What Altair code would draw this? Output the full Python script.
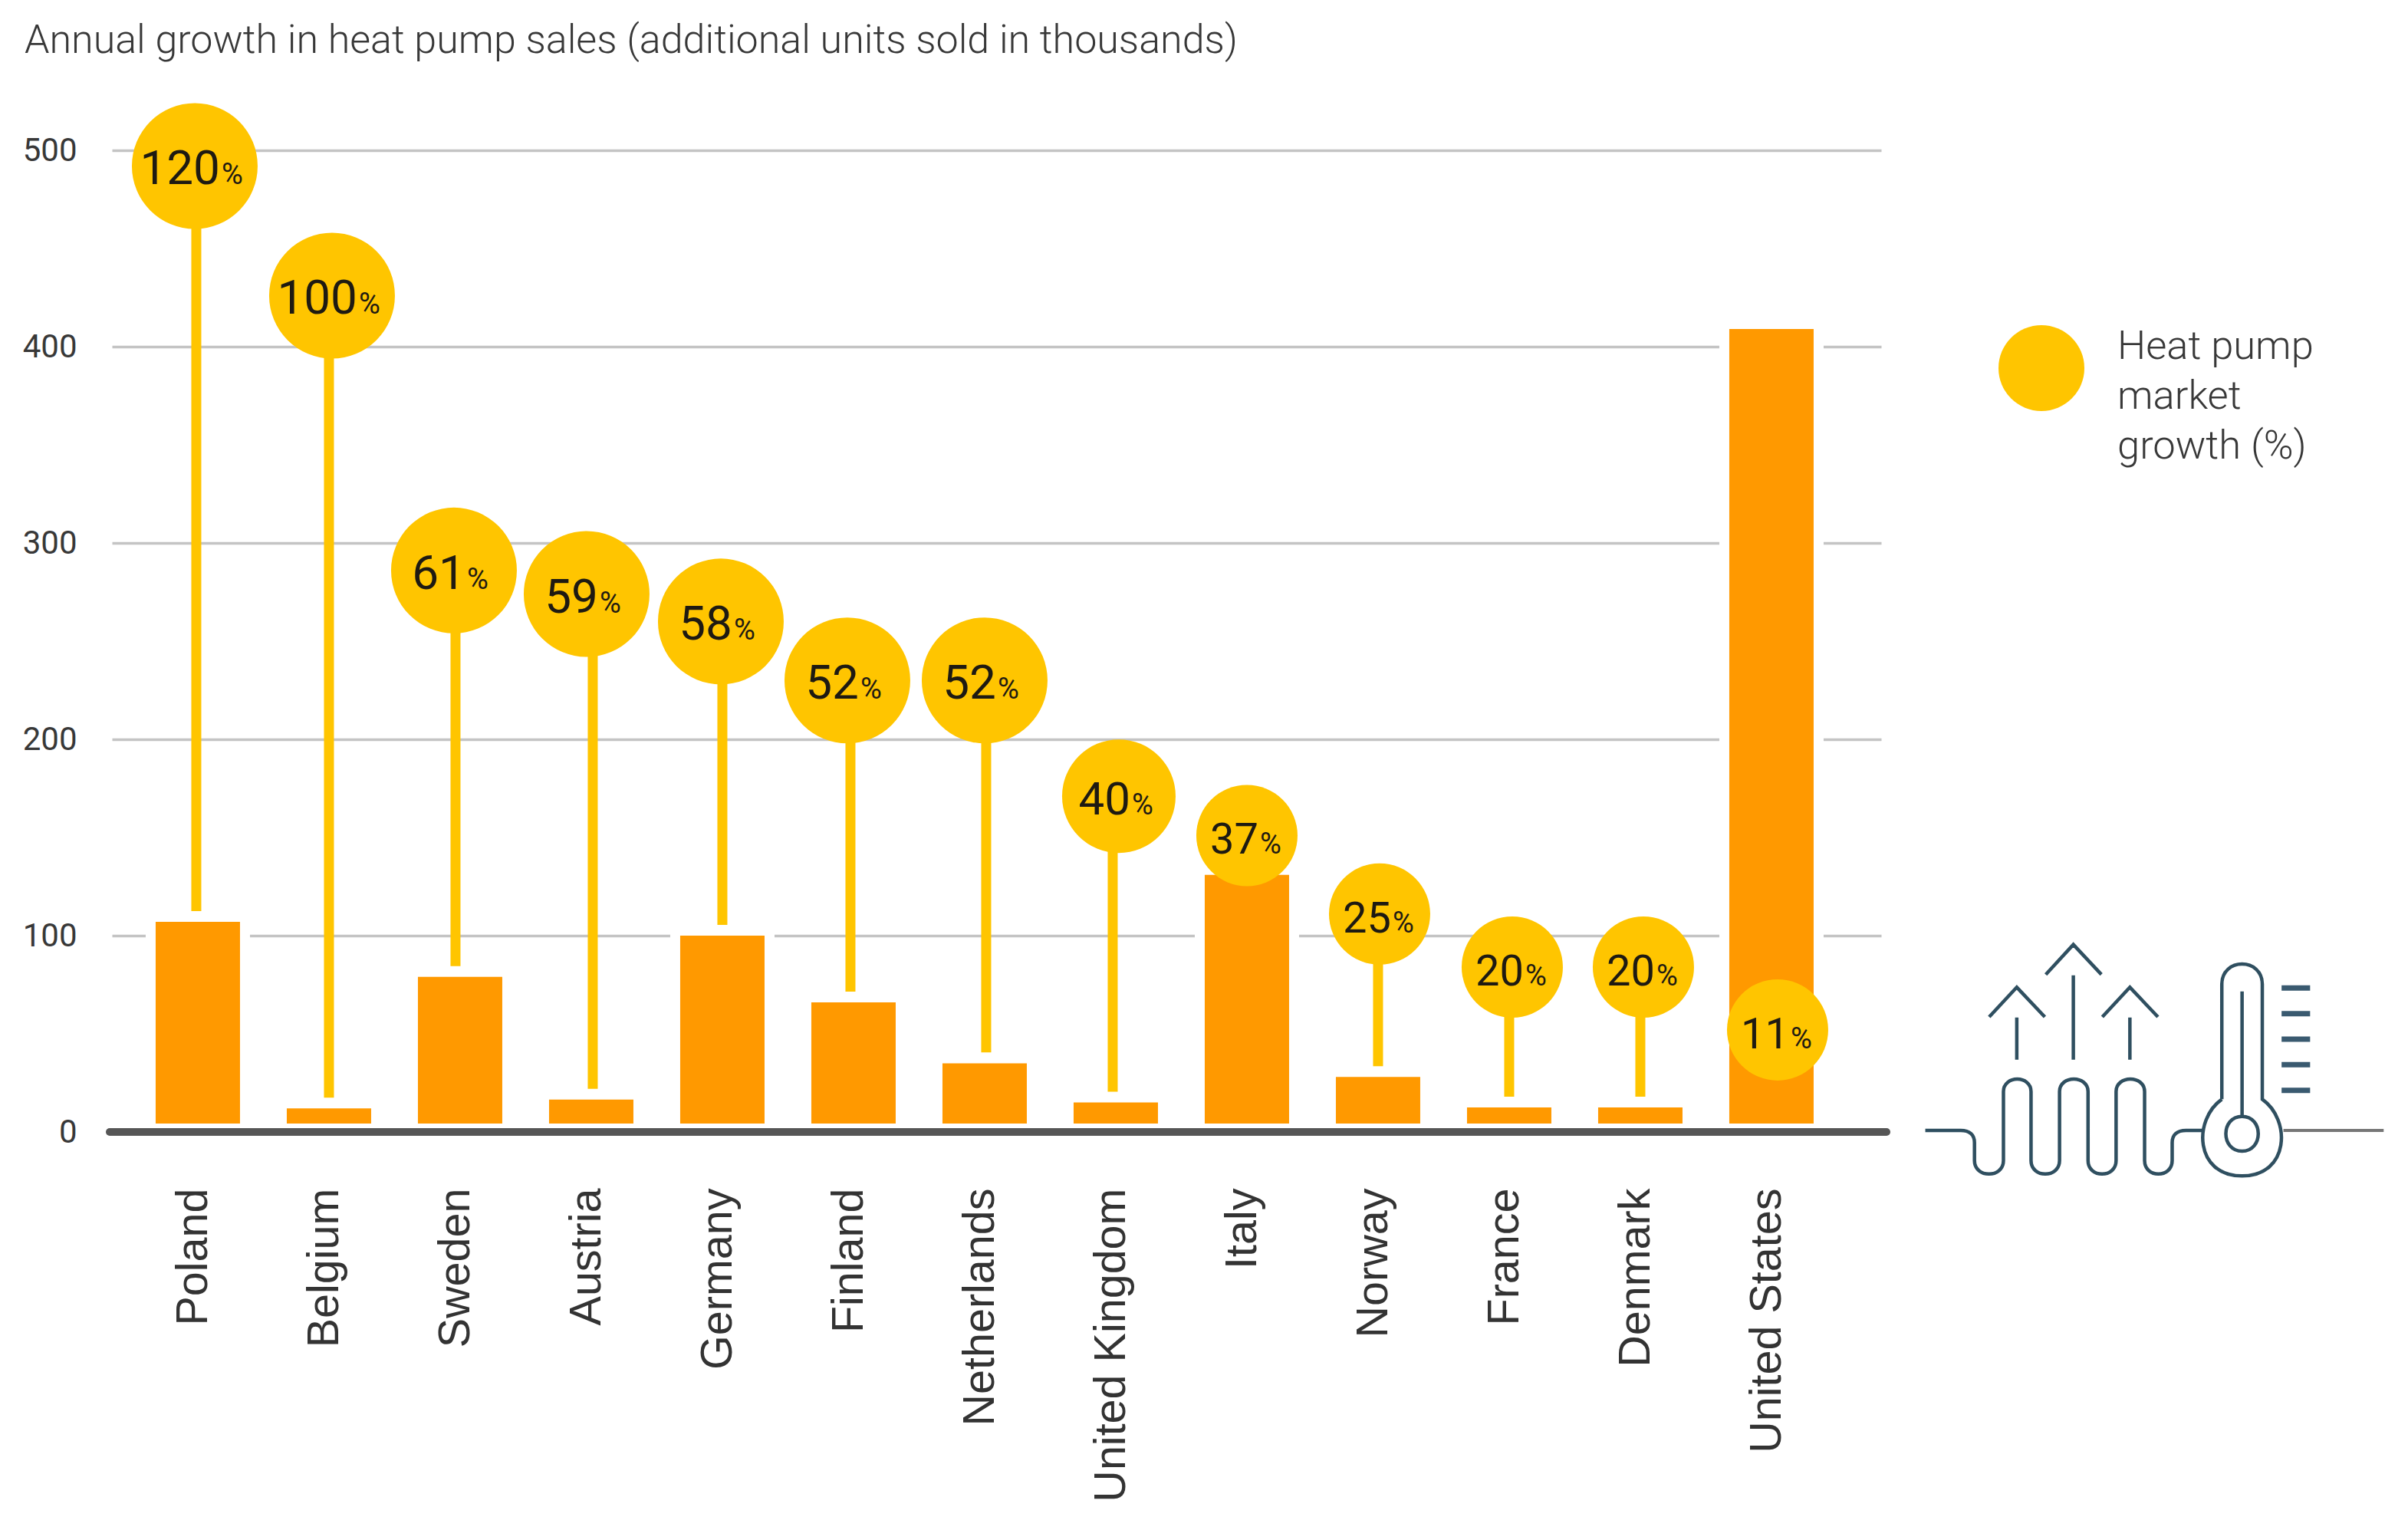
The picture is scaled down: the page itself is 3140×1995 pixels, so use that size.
import altair as alt
import pandas as pd

countries = ["Poland", "Belgium", "Sweden", "Austria", "Germany", "Finland", "Netherlands",
             "United Kingdom", "Italy", "Norway", "France", "Denmark", "United States"]
added_sales = [107, 12, 79, 16.5, 100, 66, 35, 15, 131, 28, 12.5, 12.5, 409]
growth_pct = [120, 100, 61, 59, 58, 52, 52, 40, 37, 25, 20, 20, 11]
bubble_height = [492, 426, 286, 274, 260, 230, 230, 171, 151, 111, 84, 84, 52]
bubble_shift = [-4, 4, -8, -6, -2, -8, 0, 4, 0, 2, 4, 4, 8]
stem_shift = [-2, 0, -6, 2, 0, -4, 2, -4, 0, 0, 0, 0, 0]
y_ticks = [0, 100, 200, 300, 400, 500]
title_text = "Annual growth in heat pump sales (additional units sold in thousands)"
legend_lines = ["Heat pump", "market", "growth (%)"]

BAR = "#FF9900"
BUB = "#FFC500"
INK = "#1E1A12"
GREY = "#383838"
LEFT, TOP, W, H = 146, 196, 2307, 1280
HALF_STEP = 85.5


def px(x):
    return x - LEFT


def py(y):
    return y - TOP


df = pd.DataFrame({"country": countries, "sales": added_sales, "growth": growth_pct,
                   "bubble": bubble_height, "shift": bubble_shift, "stem": stem_shift})
df["label"] = df["growth"].astype(str)

x_scale = alt.Scale(paddingInner=0, paddingOuter=0.2456, align=0.315)
x = alt.X("country:N", sort=countries, title=None, scale=x_scale,
          axis=alt.Axis(labelAngle=270, labelFont="Liberation Sans", labelFontSize=57.5,
                        labelColor="#333333", labelOffset=-5, labelPadding=73, tickSize=0,
                        ticks=False, domain=False, grid=False, labelAlign="right",
                        labelBaseline="middle", labelLimit=0))
x_plain = alt.X("country:N", sort=countries)
y_scale = alt.Scale(domain=[0, 500], nice=False)
y = alt.Y("sales:Q", scale=y_scale, title=None, stack=None,
          axis=alt.Axis(values=y_ticks, labelFont="Roboto", labelFontSize=42, labelColor=GREY,
                        labelPadding=46, ticks=False, domain=False, grid=True,
                        gridColor="#C4C4C4", gridWidth=3.5))
offset_scale = alt.Scale(domain=[-100, 100], range=[HALF_STEP - 100, HALF_STEP + 100])
off = alt.XOffset("shift:Q", scale=offset_scale)
stem_off = alt.XOffset("stem:Q", scale=offset_scale)
base = alt.Chart(df)
BAR_FOOT = 4.3

bars = base.mark_bar(width=110, color=BAR, stroke="white", strokeWidth=26).encode(
    x=x, y=y, y2=alt.datum(BAR_FOOT))
bars_top = base.mark_bar(width=110, color=BAR).encode(
    x=x_plain, y=alt.Y("sales:Q", stack=None), y2=alt.datum(BAR_FOOT))

stems = base.transform_filter("datum.bubble > datum.sales").transform_calculate(
    stem_bottom="datum.sales + 5.5").mark_rule(color=BUB, strokeWidth=13).encode(
    x=x_plain, xOffset=stem_off, y=alt.Y("bubble:Q"), y2="stem_bottom:Q")

bubbles = base.mark_point(filled=True, opacity=1, color=BUB, shape="circle").encode(
    x=x_plain, xOffset=off, y=alt.Y("bubble:Q"),
    size=alt.Size("growth:Q", legend=None,
                  scale=alt.Scale(type="threshold", domain=[40, 52],
                                  range=[132 ** 2, 148 ** 2, 164 ** 2])))


def value_labels(test, dx, pct_dx):
    d = base.transform_filter(test)
    common = dict(x=x_plain, xOffset=off, y=alt.Y("bubble:Q"))
    nums = d.mark_text(font="Roboto", align="right", baseline="alphabetic",
                       dx=dx, dy=24, color=INK).encode(
        text="label:N",
        size=alt.Size("growth:Q", legend=None,
                      scale=alt.Scale(type="threshold", domain=[40, 52], range=[56, 60, 62])),
        **common)
    pct = d.mark_text(font="Roboto", align="left", baseline="alphabetic",
                      dx=pct_dx, dy=24, fontSize=38, color=INK, text="%").encode(**common)
    return nums + pct


baseline = alt.Chart(df.head(1)).mark_rule(color="#565656", strokeWidth=10, strokeCap="round").encode(
    y=alt.datum(0, scale=y_scale), x=alt.value(px(143)), x2=alt.value(px(2460)))

title = alt.Chart(df.head(1)).mark_text(
    text=title_text, font="Roboto", fontSize=52, fontWeight=300, color=GREY, align="left",
    baseline="alphabetic").encode(x=alt.value(px(32)), y=alt.value(py(69)))

legend_dot = alt.Chart(df.head(1)).mark_point(filled=True, opacity=1, color=BUB, shape="circle",
                                              size=112 ** 2).encode(
    x=alt.value(px(2662)), y=alt.value(py(480)))
legend_baselines = [468, 533, 598]
legend_text = alt.layer(*[
    alt.Chart(df.head(1)).mark_text(text=t, font="Roboto", fontSize=52.5, fontWeight=300, color=GREY,
                                    align="left", baseline="alphabetic").encode(
        x=alt.value(px(2761)), y=alt.value(py(b)))
    for t, b in zip(legend_lines, legend_baselines)])

# Decorative heat pump icon, traced in zoom-crop units of the reference.
ICON_CX, ICON_CY, ICON_HALF = 2809, 1381, 300


def P(zx, zy):
    fx = 2200 + zx / 1.668
    fy = 1150 + zy / 3
    return f"{(fx - ICON_CX) / ICON_HALF:.4f},{(fy - ICON_CY) / ICON_HALF:.4f}"


def u_turn(x1, y1, x2, y2, cy):
    return f"L{P(x1, y1)} C{P(x1, cy)} {P(x2, cy)} {P(x2, y2)} "


coil = f"M{P(518, 972)} L{P(595, 972)} C{P(615, 972)} {P(625, 990)} {P(625, 1020)} "
coil += u_turn(625, 1090, 688, 1090, 1160)
coil += u_turn(688, 820, 748, 820, 755)
coil += u_turn(748, 1090, 810, 1090, 1160)
coil += u_turn(810, 820, 872, 820, 755)
coil += u_turn(872, 1090, 933, 1090, 1160)
coil += u_turn(933, 820, 995, 820, 755)
coil += u_turn(995, 1090, 1055, 1090, 1160)
coil += f"L{P(1055, 1020)} C{P(1055, 990)} {P(1065, 972)} {P(1085, 972)} L{P(1120, 972)} "
arrows = ""
for ax, top, shaft, lo in [(717, 412, 530, 528), (840, 245, 365, 362), (963, 412, 530, 528)]:
    arrows += f"M{P(ax, 695)} L{P(ax, shaft)} M{P(ax - 60, lo)} L{P(ax, top)} L{P(ax + 61, lo)} "
thermo = (f"M{P(1163, 850)} L{P(1163, 400)} C{P(1163, 295)} {P(1251, 295)} {P(1251, 400)} "
          f"L{P(1251, 850)} C{P(1314, 930)} {P(1310, 1150)} {P(1207, 1150)} "
          f"C{P(1104, 1150)} {P(1100, 930)} {P(1163, 850)} "
          f"M{P(1207, 428)} L{P(1207, 917)} "
          f"C{P(1160, 917)} {P(1160, 1053)} {P(1207, 1053)} "
          f"C{P(1254, 1053)} {P(1254, 917)} {P(1207, 917)} ")
ticks = "".join(f"M{P(1293, t)} L{P(1355, t)} " for t in [415, 515, 615, 715, 815])
tail = f"M{P(1297, 972)} L{P(1515, 972)}"


def icon_part(path, colour, width):
    return alt.Chart(df.head(1)).mark_point(shape=path, filled=False, opacity=1, stroke=colour,
                                            strokeWidth=width, size=(2 * ICON_HALF) ** 2).encode(
        x=alt.value(px(ICON_CX)), y=alt.value(py(ICON_CY)))


icon = icon_part(coil + arrows + thermo, "#2F4F60", 4.5) + icon_part(ticks, "#3A5A70", 7) + icon_part(tail, "#777777", 4)

chart = alt.layer(
    bars, bars_top, stems, bubbles,
    value_labels("datum.growth >= 100", 33, 35),
    value_labels("datum.growth < 100", 15, 17),
    baseline, title, legend_dot, legend_text, icon,
).resolve_scale(size="independent").properties(
    width=W, height=H,
    autosize=alt.AutoSizeParams(type="none"),
    padding={"left": LEFT - 8, "top": TOP - 8, "right": 3124 - (LEFT - 8) - W, "bottom": 1975 - (TOP - 8) - H},
).configure_view(stroke=None)

chart.save("out.html", embed_options={"renderer": "svg", "actions": False})
